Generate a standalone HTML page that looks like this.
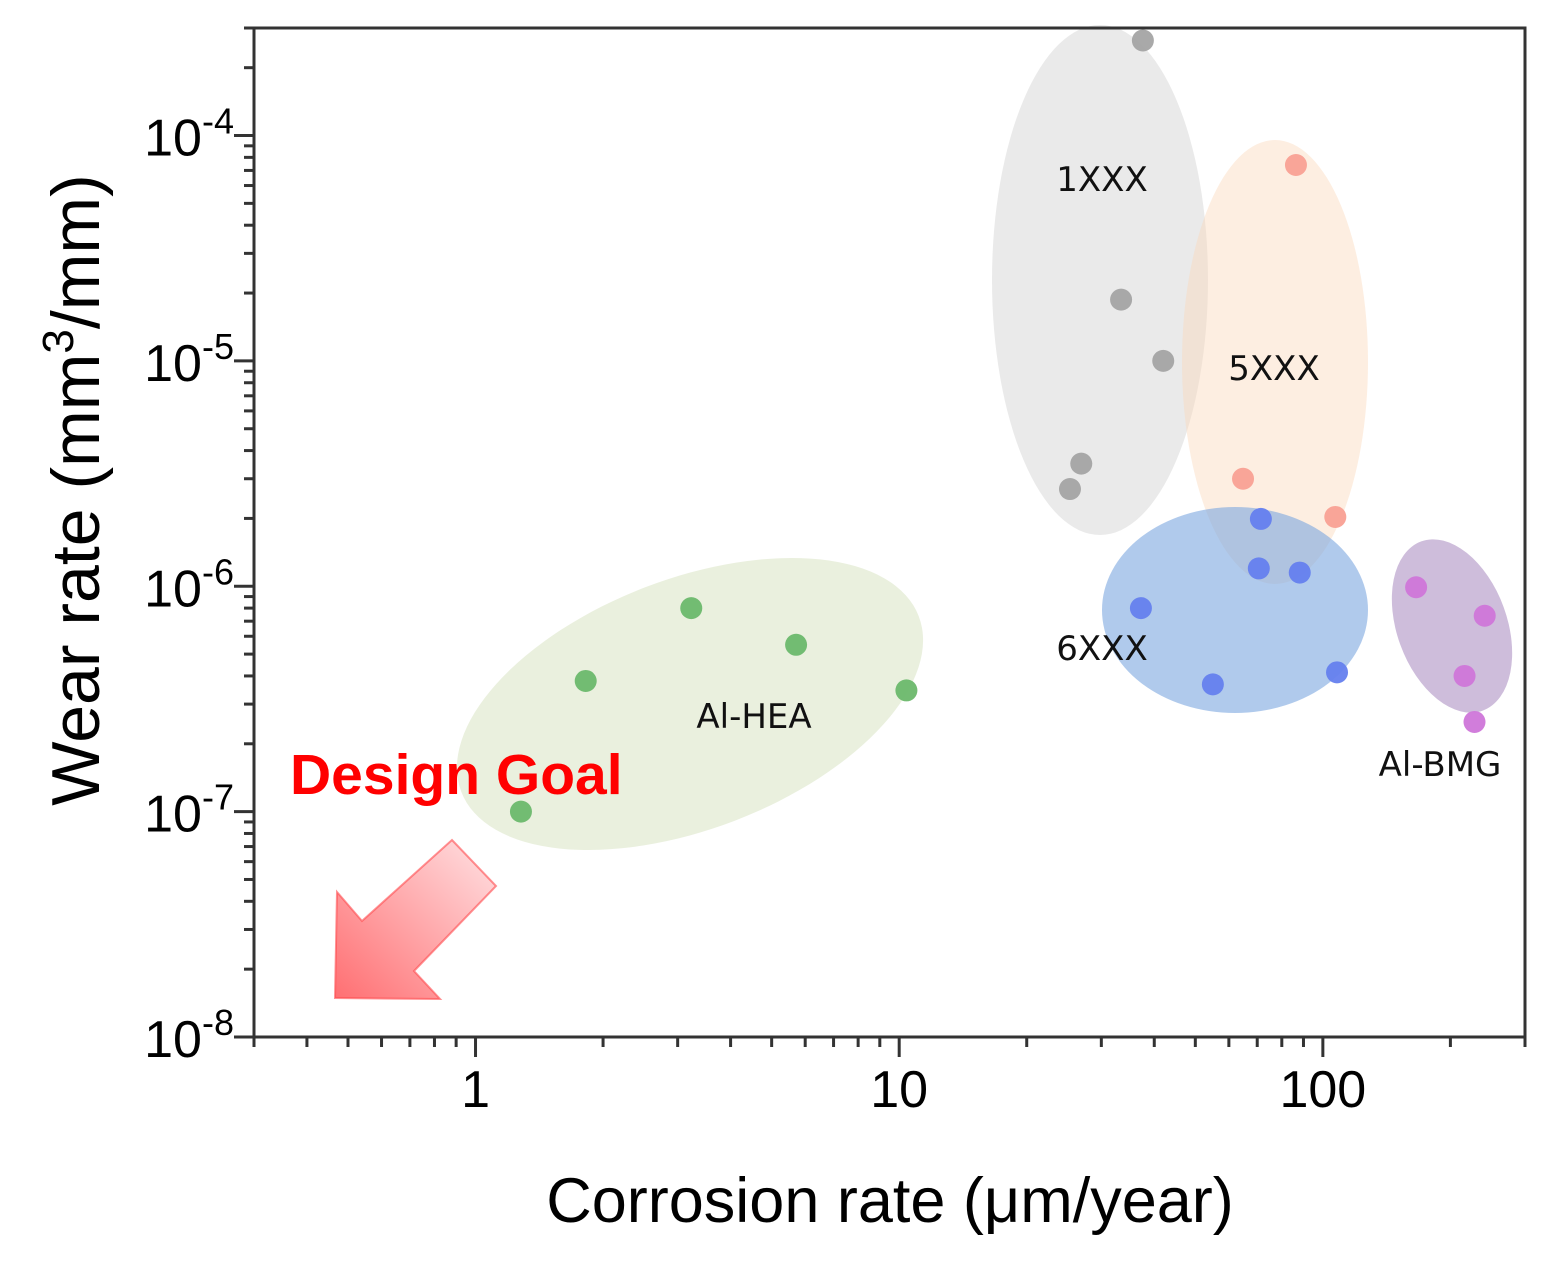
<!DOCTYPE html>
<html><head><meta charset="utf-8"><style>
html,body{margin:0;padding:0;background:#fff;}
svg{display:block;font-family:"Liberation Sans",sans-serif;}
</style></head><body>
<svg id="chart" width="1556" height="1261" viewBox="0 0 1556 1261" xmlns="http://www.w3.org/2000/svg">
<defs>
<linearGradient id="arrowGrad" x1="1" y1="0" x2="0" y2="1">
<stop offset="0" stop-color="#ffe2e4"/><stop offset="1" stop-color="#ff6f72"/>
</linearGradient>
</defs>
<g id="ellipses"></g>
<g id="points"></g>
<g id="labels"></g>
<g id="axes"></g>
<g>
<text x="290" y="794" font-family="'Liberation Sans',sans-serif" font-weight="bold" font-size="57" fill="#ff0000">Design Goal</text>
<polygon points="337,892 362,921 452,840 496,886 414,971 440,999 335,998" fill="url(#arrowGrad)" stroke="#ff4a4d" stroke-width="2" stroke-opacity="0.6"/>
</g>
<text x="890" y="1222" text-anchor="middle" font-size="63" fill="#000">Corrosion rate (μm/year)</text>
<text transform="translate(99,490) rotate(-90)" text-anchor="middle" font-size="68" fill="#000">Wear rate (mm<tspan font-size="44" dy="-26">3</tspan><tspan dy="26">/mm)</tspan></text>
</svg>
<script>
// data arrays
const groupNames = ["1XXX","5XXX","6XXX","Al-BMG","Al-HEA"];
const x1XXX = [37.6, 33.4, 42, 26.9, 25.3];
const y1XXX = [2.64e-4, 1.87e-5, 1e-5, 3.5e-6, 2.7e-6];
const x5XXX = [86.4, 64.8, 107];
const y5XXX = [7.4e-5, 3e-6, 2.03e-6];
const x6XXX = [71.4, 70.6, 88.2, 37.2, 55, 108];
const y6XXX = [1.99e-6, 1.2e-6, 1.15e-6, 8e-7, 3.67e-7, 4.15e-7];
const xBMG = [166, 241, 216, 228];
const yBMG = [9.9e-7, 7.4e-7, 4e-7, 2.5e-7];
const xHEA = [1.28, 1.82, 3.23, 5.71, 10.4];
const yHEA = [1e-7, 3.8e-7, 8e-7, 5.5e-7, 3.45e-7];
const xTickLabels = ["1","10","100"];
const xTickValues = [1,10,100];
const yTickExp = [-4,-5,-6,-7,-8];

const NS="http://www.w3.org/2000/svg";
const L=254,R=1525,T=28,B=1037;
const xMin=Math.log10(0.3),xMax=Math.log10(300);
const yMin=-8,yMax=Math.log10(3e-4);
function sx(v){return L+(Math.log10(v)-xMin)/(xMax-xMin)*(R-L);}
function sy(v){return B-(Math.log10(v)-yMin)/(yMax-yMin)*(B-T);}
function mk(tag,attrs,parent){const e=document.createElementNS(NS,tag);for(const k in attrs)e.setAttribute(k,attrs[k]);parent.appendChild(e);return e;}

const ell=document.getElementById('ellipses');
const ellDefs=[
 ["ellipse-1xxx",1100,280,108,255,0,"#d6d6d6",0.5],
 ["ellipse-5xxx",1275,362,93,222,0,"#fbd9bd",0.45],
 ["ellipse-6xxx",1235,610,133,103,0,"#7ba6df",0.6],
 ["ellipse-al-bmg",1452,626,55,90,-20,"#a587be",0.55],
 ["ellipse-al-hea",690,704,245,125,-21,"#d8e4c2",0.55]];
ellDefs.forEach(d=>{
 const e=mk('ellipse',{cx:d[1],cy:d[2],rx:d[3],ry:d[4],transform:`rotate(${d[5]} ${d[1]} ${d[2]})`,fill:d[6],'fill-opacity':d[7]},ell);
 
 
});

const pts=document.getElementById('points');
const series=[[x1XXX,y1XXX,"#a4a4a4","1xxx"],[x5XXX,y5XXX,"#f9a093","5xxx"],[x6XXX,y6XXX,"#6580ee","6xxx"],[xBMG,yBMG,"#cf76d9","al-bmg"],[xHEA,yHEA,"#6cb86c","al-hea"]];
series.forEach(s=>{s[0].forEach((xv,i)=>{
 const c=mk('circle',{cx:sx(xv),cy:sy(s[1][i]),r:11,fill:s[2],'fill-opacity':0.95},pts);
 
 
});});

const lab=document.getElementById('labels');
const labDefs=[["1XXX",1102,191],["5XXX",1274,380],["6XXX",1102,660],["Al-HEA",754,728],["Al-BMG",1440,776]];
labDefs.forEach((d,i)=>{
 const t=mk('text',{x:d[1],y:d[2],'text-anchor':'middle','font-size':34,fill:'#111','font-family':"'DejaVu Sans',sans-serif"},lab);
 t.textContent=d[0];
 
 
});

const ax=document.getElementById('axes');
const frame=mk('rect',{x:L,y:T,width:R-L,height:B-T,fill:'none',stroke:'#333',"stroke-width":3},ax);


for(let d=-1;d<=2;d++){for(let m=1;m<=9;m++){const v=m*Math.pow(10,d);if(v<0.3-1e-9||v>300+1e-9)continue;
 const x=sx(v);const major=m===1;
 const tk=mk('line',{x1:x,x2:x,y1:B,y2:B+(major?20:10),stroke:'#333','stroke-width':3},ax);
 
 
}}
xTickValues.forEach((v,i)=>{
 const t=mk('text',{x:sx(v),y:B+70,'text-anchor':'middle','font-size':52,fill:'#000'},ax);
 t.textContent=xTickLabels[i];
 
 
});
for(let d=-8;d<=-4;d++){for(let m=1;m<=9;m++){const v=m*Math.pow(10,d);if(v>3e-4*1.0001)continue;
 const y=sy(v);const major=m===1;
 const tk=mk('line',{x1:L,x2:L-(major?20:10),y1:y,y2:y,stroke:'#333','stroke-width':3},ax);
 
 
}}
yTickExp.forEach(e=>{
 const t=mk('text',{x:234,y:sy(Math.pow(10,e))+20,'text-anchor':'end','font-size':52,fill:'#000'},ax);
 t.innerHTML='10<tspan font-size="36" dy="-22">'+e+'</tspan>';
 
 
});
</script>
</body></html>
